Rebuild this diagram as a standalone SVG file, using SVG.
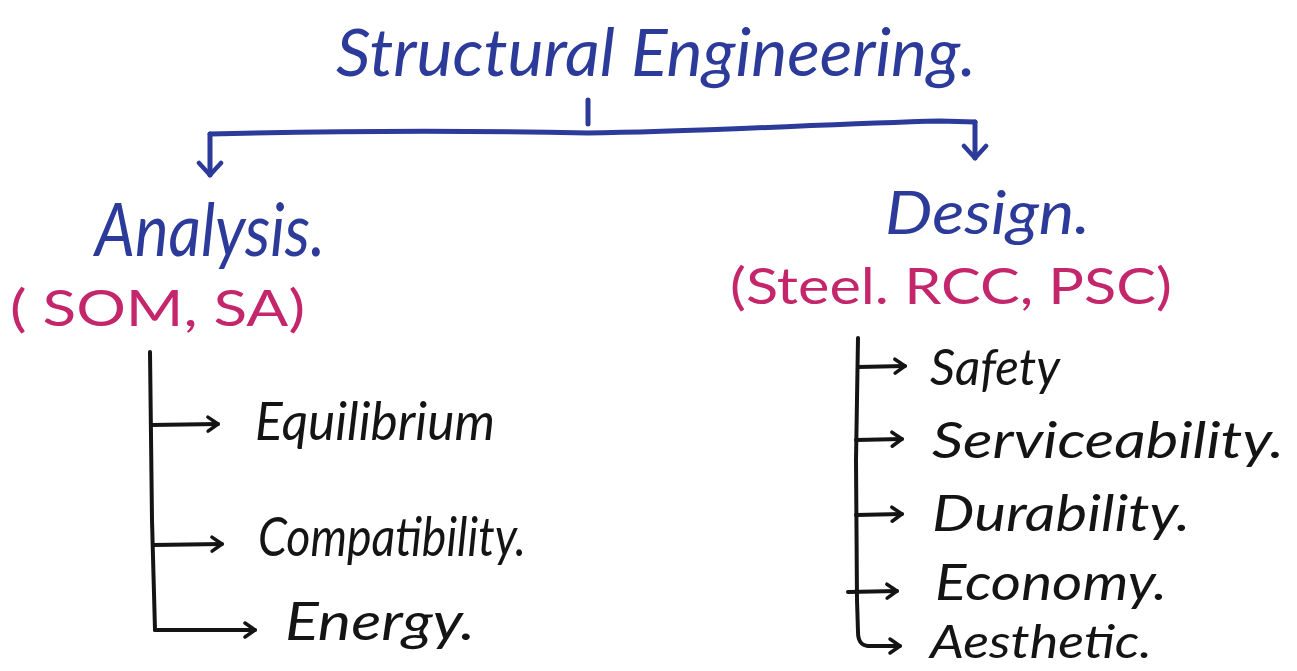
<svg xmlns="http://www.w3.org/2000/svg" width="1297" height="671" viewBox="0 0 1297 671">
  <defs>
    <style>
      .ink { font-family: "Lato", "Open Sans", "DejaVu Sans", sans-serif; font-style: italic; }
      .blue { fill: #2c3a9a; }
      .pink { fill: #c4266c; font-style: normal; }
      .black { fill: #141414; }
      .lb { fill: none; stroke: #2c3a9a; stroke-width: 5; stroke-linecap: round; stroke-linejoin: round; }
      .lk { fill: none; stroke: #141414; stroke-width: 4; stroke-linecap: round; stroke-linejoin: round; }
    </style>
    <marker id="chevBlue" markerUnits="userSpaceOnUse" markerWidth="30" markerHeight="30" refX="15" refY="15" orient="auto">
      <path d="M3,4 L15,15 L3,26" fill="none" stroke="#2c3a9a" stroke-width="4.5" stroke-linecap="round" stroke-linejoin="round"/>
    </marker>
    <marker id="chevBlack" markerUnits="userSpaceOnUse" markerWidth="26" markerHeight="26" refX="13" refY="13" orient="auto">
      <path d="M3,6 L13,13 L3,20" fill="none" stroke="#141414" stroke-width="3.5" stroke-linecap="round" stroke-linejoin="round"/>
    </marker>
  </defs>

  <rect width="1297" height="671" fill="#ffffff"/>

  <g id="connectors">
    <!-- root split -->
    <path class="lb" d="M588,100 L588,124"/>
    <path class="lb" d="M210,134 C330,131 450,130 588,133 C700,132 820,124 940,121 L975,122"/>
    <path class="lb" d="M210,134 L210,175" marker-end="url(#chevBlue)"/>
    <path class="lb" d="M975,122 L975,158" marker-end="url(#chevBlue)"/>
    <!-- analysis branches -->
    <path class="lk" d="M150,352 L152,520 L155,630"/>
    <path class="lk" d="M151,425 L218,424" marker-end="url(#chevBlack)"/>
    <path class="lk" d="M153,545 L222,544" marker-end="url(#chevBlack)"/>
    <path class="lk" d="M155,630 L255,630" marker-end="url(#chevBlack)"/>
    <!-- design branches -->
    <path class="lk" d="M858,338 L856,460 L857,600 L858,632 C858,642 862,646 870,646"/>
    <path class="lk" d="M858,367 L905,366" marker-end="url(#chevBlack)"/>
    <path class="lk" d="M856,440 L902,439" marker-end="url(#chevBlack)"/>
    <path class="lk" d="M856,515 L902,514" marker-end="url(#chevBlack)"/>
    <path class="lk" d="M848,592 L897,591" marker-end="url(#chevBlack)"/>
    <path class="lk" d="M868,646 L900,646" marker-end="url(#chevBlack)"/>
  </g>

  <g id="root">
    <text class="ink blue" x="336" y="76" font-size="66" textLength="640" lengthAdjust="spacingAndGlyphs">Structural Engineering.</text>
  </g>

  <g id="analysis">
    <text class="ink blue" x="95" y="256" font-size="74" textLength="230" lengthAdjust="spacingAndGlyphs">Analysis.</text>
    <text class="ink pink" x="10" y="326" font-size="50" textLength="295" lengthAdjust="spacingAndGlyphs">( SOM, SA)</text>
  </g>

  <g id="design">
    <text class="ink blue" x="885" y="234" font-size="60" textLength="205" lengthAdjust="spacingAndGlyphs">Design.</text>
    <text class="ink pink" x="730" y="304" font-size="50" textLength="442" lengthAdjust="spacingAndGlyphs">(Steel. RCC, PSC)</text>
  </g>

  <g id="equilibrium"><text class="ink black" x="255" y="440" font-size="52" textLength="240" lengthAdjust="spacingAndGlyphs">Equilibrium</text></g>
  <g id="compatibility"><text class="ink black" x="258" y="556" font-size="54" textLength="268" lengthAdjust="spacingAndGlyphs">Compatibility.</text></g>
  <g id="energy"><text class="ink black" x="285" y="640" font-size="52" textLength="190" lengthAdjust="spacingAndGlyphs">Energy.</text></g>

  <g id="safety"><text class="ink black" x="930" y="385" font-size="50" textLength="130" lengthAdjust="spacingAndGlyphs">Safety</text></g>
  <g id="serviceability"><text class="ink black" x="932" y="458" font-size="50" textLength="352" lengthAdjust="spacingAndGlyphs">Serviceability.</text></g>
  <g id="durability"><text class="ink black" x="932" y="531" font-size="50" textLength="258" lengthAdjust="spacingAndGlyphs">Durability.</text></g>
  <g id="economy"><text class="ink black" x="935" y="600" font-size="50" textLength="232" lengthAdjust="spacingAndGlyphs">Economy.</text></g>
  <g id="aesthetic"><text class="ink black" x="930" y="658" font-size="46" textLength="222" lengthAdjust="spacingAndGlyphs">Aesthetic.</text></g>
</svg>
